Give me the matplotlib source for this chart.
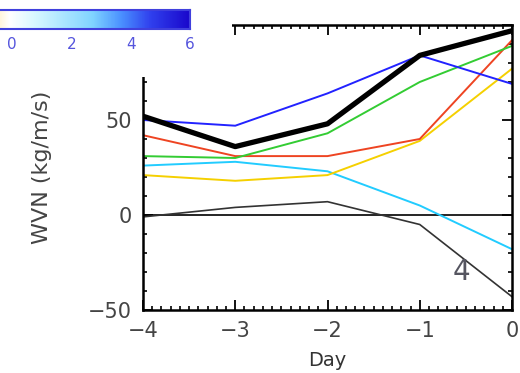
import matplotlib.pyplot as plt
import numpy as np
from matplotlib.colors import LinearSegmentedColormap
from matplotlib.patches import Rectangle
from matplotlib.ticker import MultipleLocator

days = [-4, -3, -2, -1, 0]

# WVN (kg/m/s) for each line
thick_black = [52, 36, 48, 84, 97]
blue = [50, 47, 64, 84, 69]
green = [31, 30, 43, 70, 89]
red = [42, 31, 31, 40, 92]
cyan = [26, 28, 23, 5, -18]
yellow = [21, 18, 21, 39, 77]
thin_black = [-1, 4, 7, -5, -43]

cbar_ticks = [0, 2, 4, 6]

plt.rcParams['font.family'] = ['DejaVu Sans']

fig = plt.figure(figsize=(5.2, 3.73), dpi=100)
ax = fig.add_axes([143/520, 1-310/373, (512-143)/520, (310-25)/373])

ax.axhline(0, color='black', lw=1.2, zorder=1)
ax.plot(days, thin_black, color='#333333', lw=1.2)
ax.plot(days, cyan, color='#22ccff', lw=1.4)
ax.plot(days, yellow, color='#f5d000', lw=1.4)
ax.plot(days, red, color='#ee4422', lw=1.4)
ax.plot(days, green, color='#33cc33', lw=1.4)
ax.plot(days, blue, color='#2222ff', lw=1.4)
ax.plot(days, thick_black, color='black', lw=3.8)

ax.set_xlim(-4, 0)
ax.set_ylim(-50, 100)
ax.xaxis.set_major_locator(MultipleLocator(1))
ax.xaxis.set_minor_locator(MultipleLocator(0.1))
ax.yaxis.set_major_locator(MultipleLocator(50))
ax.yaxis.set_minor_locator(MultipleLocator(10))
ax.tick_params(which='both', direction='in', top=True, right=True,
               labelsize=15, colors='black', labelcolor='#444444', pad=8)
ax.tick_params(which='major', length=7, width=1.3)
ax.tick_params(which='minor', length=3, width=1.2)
for s in ax.spines.values():
    s.set_linewidth(1.8)
ax.set_xlabel('Day', fontsize=14, color='#333333', labelpad=7)
ax.set_ylabel('WVN (kg/m/s)', fontsize=16, color='#444444', labelpad=26)
ax.text(-0.64, -34, '4', fontsize=20, color='#555560')

# white box covering top-left corner
fig.add_artist(Rectangle((0, 1-77/373), 232/520, 77/373, transform=fig.transFigure,
                         facecolor='white', edgecolor='none', zorder=5))

cmap = LinearSegmentedColormap.from_list('wv', [
    (0.0, '#fff0cc'), (0.07, '#ffffff'), (0.2, '#d8f8ff'),
    (0.5, '#80d4ff'), (0.65, '#4a90ff'), (0.8, '#3040ee'), (1.0, '#1a08cc')])
cax = fig.add_axes([-5/520, 1-29/373, 195/520, 19/373], zorder=6)
grad = np.linspace(-0.58, 6, 200).reshape(1, -1)
cax.imshow(grad, aspect='auto', cmap=cmap, extent=[-0.58, 6, 0, 1])
cax.set_xlim(-0.58, 6)
cax.set_yticks([])
cax.set_xticks(cbar_ticks)
cax.tick_params(length=0, labelsize=11, labelcolor='#5555dd', pad=6)
for s in cax.spines.values():
    s.set_color('#4040dd')
    s.set_linewidth(1.5)
fig.text(20/520, 1+4/373, '(K/s)', fontsize=10, color='#666666', zorder=7)

fig.savefig('out.png', dpi=100)
